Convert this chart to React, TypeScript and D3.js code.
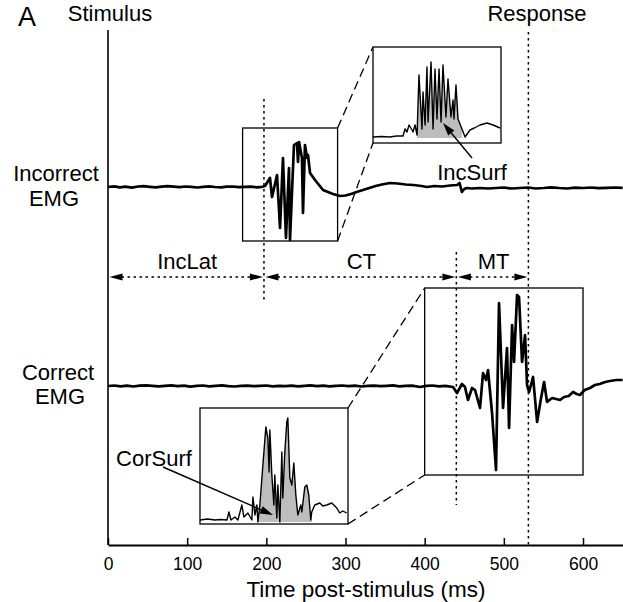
import React, { useRef, useEffect } from 'react';
import * as d3 from 'd3';

// [time (ms), amplitude (a.u.)] samples of the raw EMG traces
const incorrectEmg: [number, number][] = [
  [0, 0], [8, 0.6], [15, -0.4], [22, 0.3], [30, -0.6], [38, 0.5], [45, 0.8], [53, 0.2],
  [60, -0.3], [68, 0.4], [75, 0.9], [83, 0.3], [90, -0.2], [98, 0.5], [105, 0.1], [113, -0.5],
  [120, 0.2], [128, 0.6], [135, 0], [143, -0.4], [150, 0.3], [158, 0.5], [165, -0.2], [173, 0.1],
  [180, 0.4], [188, -0.3], [195, 0.2], [198.3, 1], [204.6, 9], [207.2, -10], [213.5, 12],
  [217.3, -41], [221, 29], [224.8, -51], [228.6, 19], [229.9, -53], [234.9, 42], [238.7, 44],
  [240, 25], [241.3, 45], [245, 29], [246.3, -26], [248.8, 42], [251.4, 29], [252.6, 32],
  [255.2, 14], [261.5, 7], [271.6, -3], [284.2, -7], [293, -9], [300, -8.5], [307, -7],
  [314, -5], [322, -3], [330, -1], [338, 1], [346, 2.5], [356, 4], [366, 3.5], [376, 2.5],
  [386, 2], [396, 1], [403, 0], [412, 1], [422, 0.5], [432, 1.5], [441, 2], [444, 4],
  [447, -5], [450, -2], [453, -1], [460, -1.5], [470, -1], [480, -1.5], [490, -1], [500, -0.5],
  [510, -1.5], [520, -1], [531, -0.5], [540, -1.5], [550, -1], [560, -0.3], [570, -1],
  [580, -1.5], [590, -0.7], [600, -1], [610, -0.5], [620, -1.2], [630, -0.8], [640, -0.5], [650, -0.8],
];

const correctEmg: [number, number][] = [
  [0, 0], [8, 0.5], [16, -0.3], [24, 0.4], [32, -0.5], [40, 0.3], [48, 0.7], [56, 0.1],
  [64, -0.4], [72, 0.2], [80, 0.6], [88, -0.2], [96, 0.3], [104, -0.6], [112, 0.1], [120, 0.5],
  [128, -0.3], [136, 0.2], [144, 0.6], [152, -0.1], [160, -0.5], [168, 0.2], [176, 0.4],
  [184, -0.2], [192, 0.1], [200, 0.5], [208, -0.4], [216, 0.2], [224, -0.1], [232, 0.4],
  [240, -0.3], [248, 0.1], [256, 0.6], [264, -0.2], [272, 0.3], [280, -0.4], [288, 0.2],
  [296, 0.5], [304, -0.1], [312, 0.3], [320, -0.5], [328, 0.1], [336, 0.4], [344, -0.2],
  [352, 0.2], [360, 0.6], [368, -0.3], [376, 0.1], [384, 0.4], [394.1, -1], [402, 0.2],
  [410, 0.5], [418, -0.3], [426, 0.2], [435.8, -1], [440.8, -7], [447.1, 2], [450.9, -1],
  [454.7, -14], [459.8, -2], [463.6, -4], [469.9, -22], [473.7, 13], [477.5, 6], [480, 16],
  [485.1, -27], [490.1, -84], [493.9, 83], [499, -22], [504, 38], [506.6, -42], [510.4, 61],
  [512.9, 24], [516.7, 91], [519.2, 89], [523, 24], [526.8, 51], [529.3, 1], [531.9, -6],
  [536.9, 9], [542, -36], [547, -12], [550.8, 4], [554.6, -16], [560.9, -12], [566, -13],
  [571, -14], [576, -11], [582, -10], [587.4, -6], [592, -8], [596.2, -9], [602, -4],
  [608.8, -2], [615, 1], [621, 2], [628, 4], [634, 5], [642, 6], [650, 6],
];

// rectified EMG shown in the magnified insets
const incorrectRectified: [number, number][] = [
  [170, 1], [178, 1.5], [185.9, 1], [192, 2], [198.1, 2], [200, 9], [201.9, 6], [203.8, 13],
  [206.6, 8], [207.5, 6], [209.4, 13], [211.3, 3], [213.1, 63], [215.9, 9], [216.9, 46],
  [218.8, 13], [220.6, 71], [221.6, 16], [224.4, 76], [226.3, 9], [228.1, 69], [230, 19],
  [231.9, 69], [233.8, 16], [235.6, 73], [238.4, 21], [240.3, 59], [243.1, 21], [245, 38],
  [245.9, 19], [247.8, 53], [249.7, 19], [253.4, 9], [256.3, 1], [260.9, 8], [265, 10],
  [270.3, 13], [276.9, 15], [282.5, 13], [289.1, 10],
];

const correctRectified: [number, number][] = [
  [400, 2], [410, 3], [420.2, 2], [428, 2.5], [436.4, 2], [439.1, 10], [441.8, 2], [447.2, 5],
  [451.2, 2], [456.6, 17], [459.3, 5], [464.7, 9], [470.1, 2], [471.5, 25], [474.2, 7],
  [476.9, 17], [478.2, 0], [480.9, 17], [485, 57], [489, 95], [491.7, 84], [493.4, 50],
  [494.4, 92], [497.1, 47], [499.8, 17], [501.1, 47], [503.8, 4], [505.2, 37], [507.9, 0],
  [510.6, 70], [511.9, 24], [514.6, 70], [517.3, 100], [518.7, 104], [521.4, 44], [524.1, 37],
  [526.8, 59], [529.5, 27], [532.2, 7], [536.2, 17], [537.6, 10], [541.6, 35], [544.3, 37],
  [547, 27], [549.7, 2], [551, 10], [555.1, 17], [561.8, 19], [566, 16], [571.3, 17],
  [578, 19], [584.8, 14], [588.8, 9], [592.9, 11], [598.2, 9],
];

// event times (ms)
const incOnset = 197;
const corOnset = 440;
const response = 531;

// magnified windows (ms)
const incWindow: [number, number] = [170, 290];
const corWindow: [number, number] = [400, 600];
const incSurfRange: [number, number] = [210.5, 254];
const corSurfRange: [number, number] = [478, 551.5];

const xTicks = [0, 100, 200, 300, 400, 500, 600];

const FONT = '"Liberation Sans", Arial, Helvetica, sans-serif';

const EmgFigure: React.FC = () => {
  const ref = useRef<SVGSVGElement | null>(null);
  const width = 623;
  const height = 602;

  useEffect(() => {
    if (!ref.current) return;
    const svg = d3.select(ref.current);
    svg.selectAll('*').remove();
    svg.attr('font-family', FONT);

    const x = d3.scaleLinear().domain([0, 650]).range([108, 622.6]);
    const axisY = 545;
    const incBase = 187;
    const corBase = 386;
    const incY = d3.scaleLinear().domain([-100, 100]).range([incBase + 100, incBase - 100]);
    const corY = d3.scaleLinear().domain([-100, 100]).range([corBase + 100, corBase - 100]);

    // inset scales
    const incInX = d3.scaleLinear().domain(incWindow).range([373, 501]);
    const incInY = d3.scaleLinear().domain([0, 100]).range([138, 38]);
    const corInX = d3.scaleLinear().domain(corWindow).range([200, 348]);
    const corInY = d3.scaleLinear().domain([0, 100]).range([522, 422]);

    const incRect = { x0: x(incWindow[0]), x1: x(incWindow[1]), y0: incY(59), y1: incY(-54) };
    const corRect = { x0: x(corWindow[0]), x1: x(corWindow[1]), y0: corY(98), y1: corY(-89) };
    const incInRect = { x0: incInX(incWindow[0]), x1: incInX(incWindow[1]), y0: 47, y1: 143 };
    const corInRect = { x0: corInX(corWindow[0]), x1: corInX(corWindow[1]), y0: 408, y1: 524 };

    const g = svg.append('g');

    // stimulus line
    g.append('line')
      .attr('x1', x(0)).attr('x2', x(0))
      .attr('y1', 30).attr('y2', axisY)
      .attr('stroke', '#000').attr('stroke-width', 1.6);

    // axis
    const axis = d3.axisBottom(x)
      .tickValues(xTicks)
      .tickSizeInner(-7)
      .tickSizeOuter(0)
      .tickPadding(13);
    const ax = g.append('g').attr('transform', `translate(0,${axisY})`).call(axis);
    ax.select('.domain').attr('stroke-width', 1.8);
    ax.selectAll('.tick line').attr('stroke-width', 1.5);
    ax.selectAll('.tick text')
      .attr('font-family', FONT)
      .attr('font-size', 17.5)
      .attr('fill', '#000');

    g.append('text')
      .attr('x', 366).attr('y', 597)
      .attr('text-anchor', 'middle')
      .attr('font-size', 22.5)
      .text('Time post-stimulus (ms)');

    // vertical event markers
    const vDotted = (t: number, y1: number, y2: number) =>
      g.append('line')
        .attr('x1', x(t)).attr('x2', x(t))
        .attr('y1', y1).attr('y2', y2)
        .attr('stroke', '#000').attr('stroke-width', 1.5)
        .attr('stroke-dasharray', '2.5,3.5');
    vDotted(incOnset, 99, 302);
    vDotted(corOnset, 252, 505);
    vDotted(response, 32, axisY);

    // interval arrows
    const arrowY = 277;
    const head = (tip: number, dir: number) => {
      const p = d3.path();
      p.moveTo(tip, arrowY);
      p.lineTo(tip + dir * 13, arrowY - 3.5);
      p.lineTo(tip + dir * 13, arrowY + 3.5);
      p.closePath();
      g.append('path').attr('d', p.toString()).attr('fill', '#000');
    };
    const interval = (t0: number, t1: number, label: string) => {
      const a = x(t0) + 1.5;
      const b = x(t1) - 1;
      g.append('line')
        .attr('x1', a + 12).attr('x2', b - 12)
        .attr('y1', arrowY).attr('y2', arrowY)
        .attr('stroke', '#000').attr('stroke-width', 1.5)
        .attr('stroke-dasharray', '2.5,3.5');
      head(a, 1);
      head(b, -1);
      g.append('text')
        .attr('x', (a + b) / 2 + 1).attr('y', 269)
        .attr('text-anchor', 'middle')
        .attr('font-size', 22)
        .text(label);
    };
    interval(0, incOnset, 'IncLat');
    interval(incOnset, corOnset, 'CT');
    interval(corOnset, response, 'MT');

    // zoom connector lines
    const dashed = (x1: number, y1: number, x2: number, y2: number) =>
      g.append('line')
        .attr('x1', x1).attr('y1', y1).attr('x2', x2).attr('y2', y2)
        .attr('stroke', '#000').attr('stroke-width', 1.3)
        .attr('stroke-dasharray', '9,5');
    dashed(incRect.x1, incRect.y0, incInRect.x0, incInRect.y0);
    dashed(incRect.x1, incRect.y1, incInRect.x0, incInRect.y1);
    dashed(corInRect.x1, corInRect.y0, corRect.x0, corRect.y0);
    dashed(corInRect.x1, corInRect.y1, corRect.x0, corRect.y1);

    const box = (r: { x0: number; x1: number; y0: number; y1: number }, fill: string) =>
      g.append('rect')
        .attr('x', r.x0).attr('y', r.y0)
        .attr('width', r.x1 - r.x0).attr('height', r.y1 - r.y0)
        .attr('fill', fill).attr('stroke', '#000').attr('stroke-width', 1.3);

    // main traces
    box(incRect, 'none');
    box(corRect, 'none');
    const incLine = d3.line<[number, number]>().x(d => x(d[0])).y(d => incY(d[1]));
    const corLine = d3.line<[number, number]>().x(d => x(d[0])).y(d => corY(d[1]));
    g.append('path').attr('d', incLine(incorrectEmg) as string)
      .attr('fill', 'none').attr('stroke', '#000').attr('stroke-width', 2.7)
      .attr('stroke-linejoin', 'round');
    g.append('path').attr('d', corLine(correctEmg) as string)
      .attr('fill', 'none').attr('stroke', '#000').attr('stroke-width', 2.7)
      .attr('stroke-linejoin', 'round');

    // insets
    const inset = (
      r: { x0: number; x1: number; y0: number; y1: number },
      data: [number, number][],
      sx: d3.ScaleLinear<number, number>,
      sy: d3.ScaleLinear<number, number>,
      range: [number, number],
    ) => {
      box(r, '#fff');
      const fillPts = data.filter(d => d[0] >= range[0] && d[0] <= range[1]);
      const area = d3.area<[number, number]>().x(d => sx(d[0])).y0(sy(0)).y1(d => sy(d[1]));
      g.append('path').attr('d', area(fillPts) as string).attr('fill', '#bdbdbd');
      const line = d3.line<[number, number]>().x(d => sx(d[0])).y(d => sy(d[1]));
      g.append('path').attr('d', line(data) as string)
        .attr('fill', 'none').attr('stroke', '#000').attr('stroke-width', 1.4)
        .attr('stroke-linejoin', 'round');
    };
    inset(incInRect, incorrectRectified, incInX, incInY, incSurfRange);
    inset(corInRect, correctRectified, corInX, corInY, corSurfRange);

    // pointer arrows
    const pointer = (fx: number, fy: number, tx: number, ty: number) => {
      const ang = Math.atan2(fy - ty, fx - tx);
      const len = 13;
      const hw = 4;
      const bx = tx + Math.cos(ang) * len;
      const by = ty + Math.sin(ang) * len;
      g.append('line')
        .attr('x1', fx).attr('y1', fy).attr('x2', bx).attr('y2', by)
        .attr('stroke', '#000').attr('stroke-width', 1.4);
      const p = d3.path();
      p.moveTo(tx, ty);
      p.lineTo(bx + Math.sin(ang) * hw, by - Math.cos(ang) * hw);
      p.lineTo(bx - Math.sin(ang) * hw, by + Math.cos(ang) * hw);
      p.closePath();
      g.append('path').attr('d', p.toString()).attr('fill', '#000');
    };
    pointer(472, 158, 443, 123);
    pointer(163, 467, 273, 515);

    const label = (tx: number, ty: number, s: string, size = 22) =>
      g.append('text')
        .attr('x', tx).attr('y', ty)
        .attr('text-anchor', 'middle')
        .attr('font-size', size)
        .text(s);
    label(472, 180, 'IncSurf');
    label(154, 466, 'CorSurf');
    label(56, 181, 'Incorrect');
    label(54, 206, 'EMG');
    label(58, 380, 'Correct');
    label(60, 404, 'EMG');
    label(110, 21, 'Stimulus');
    label(537, 21, 'Response');
    label(27, 26, 'A', 27);
  }, []);

  return (
    <svg
      ref={ref}
      width={width}
      height={height}
      style={{ position: 'absolute', left: 0, top: 0, background: '#fff' }}
    />
  );
};

export default function App() {
  return <EmgFigure />;
}
